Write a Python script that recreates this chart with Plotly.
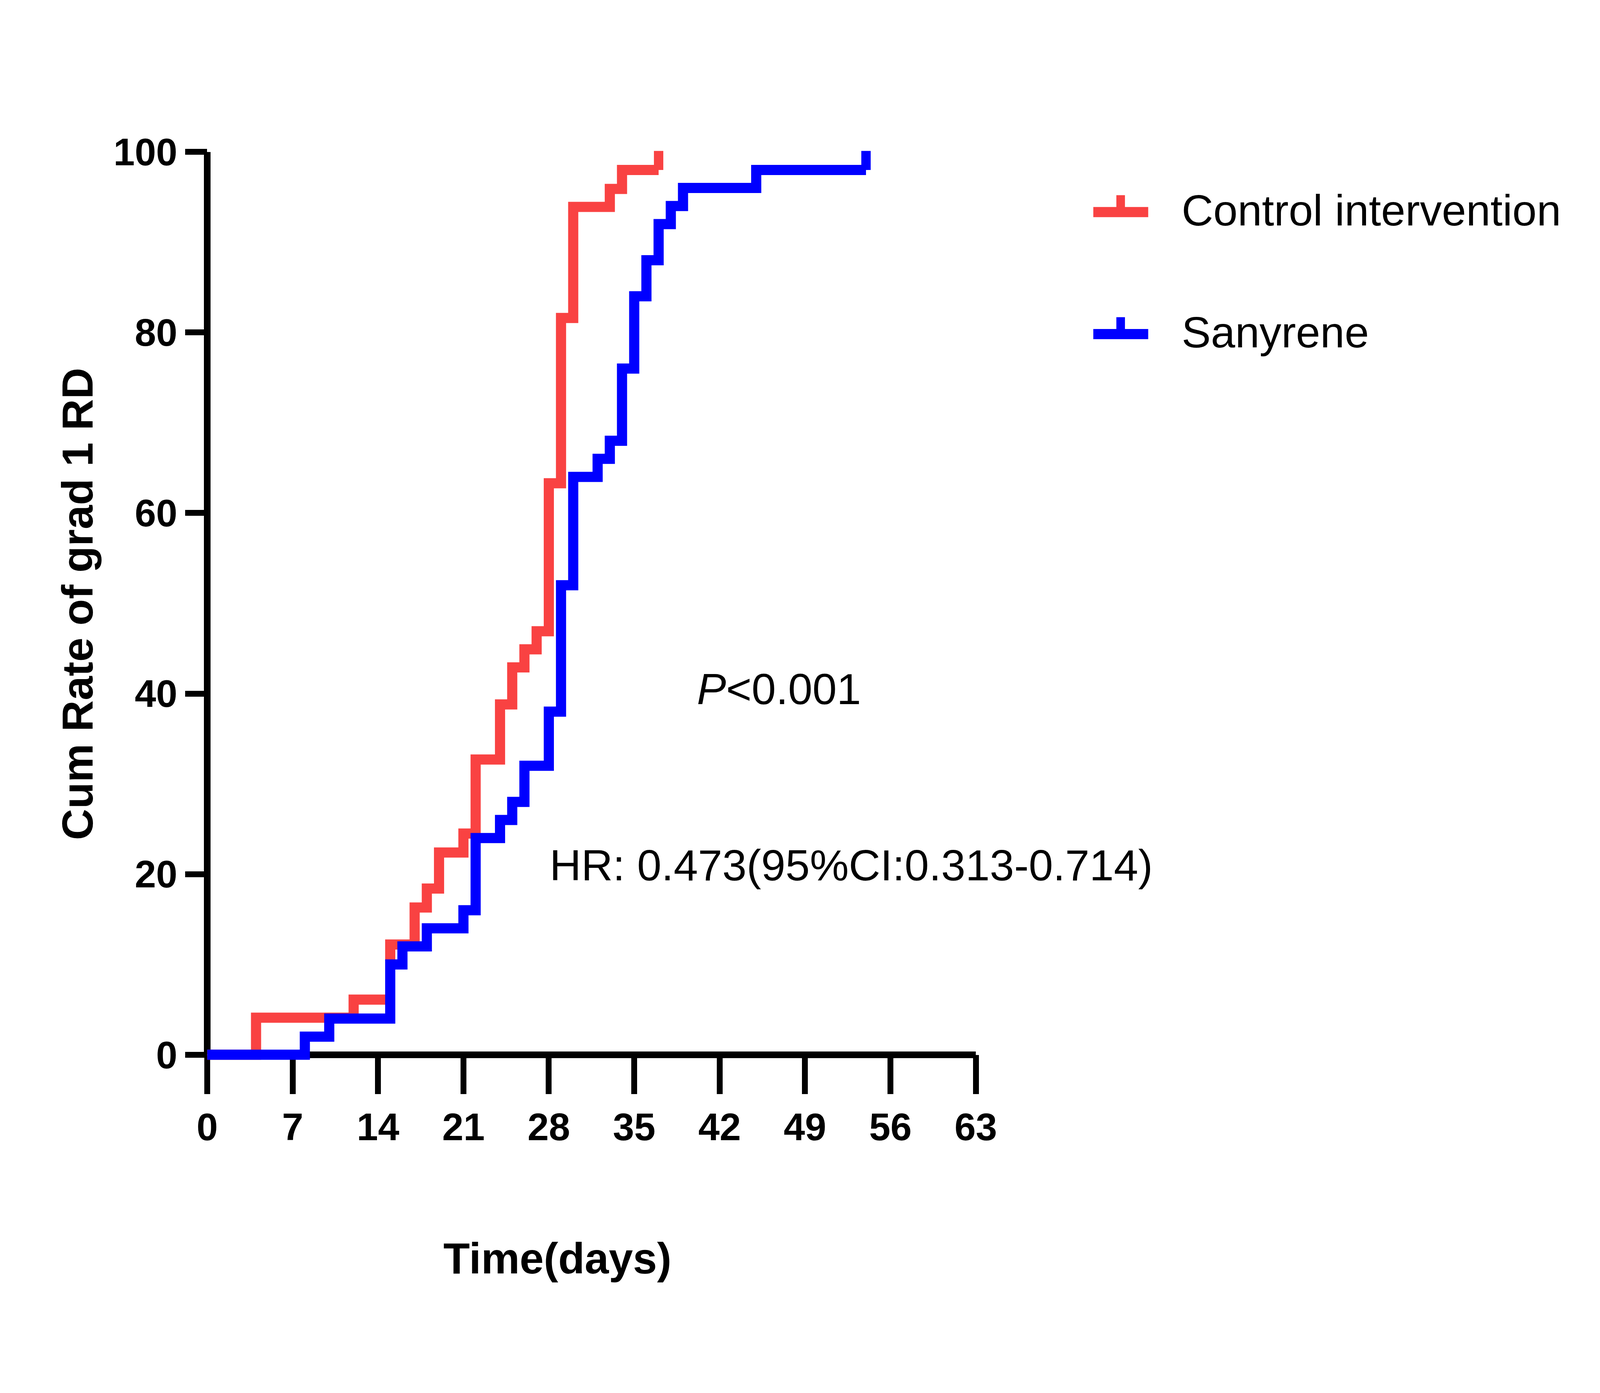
import plotly.graph_objects as go

# -----------------------------
# Data
# -----------------------------
control_days = [0, 4, 12, 15, 17, 18, 19, 21, 22, 24, 25, 26, 27, 28, 29, 30, 33, 34, 37]
control_rate = [0, 4.1, 6.1, 12.2, 16.3, 18.4, 22.4, 24.5, 32.7, 38.8, 42.9, 44.9, 46.9,
                63.3, 81.6, 93.9, 95.9, 98.0, 98.0]

sanyrene_days = [0, 8, 10, 15, 16, 18, 21, 22, 24, 25, 26, 28, 29, 30, 32, 33, 34, 35, 36,
                 37, 38, 39, 45, 54]
sanyrene_rate = [0, 2, 4, 10, 12, 14, 16, 24, 26, 28, 32, 38, 52, 64, 66, 68, 76, 84, 88,
                 92, 94, 96, 98, 98]

# censored observations (last follow-up)
control_censor = [37]
sanyrene_censor = [54]

x_ticks = [0, 7, 14, 21, 28, 35, 42, 49, 56, 63]
y_ticks = [0, 20, 40, 60, 80, 100]

group_names = ["Control intervention", "Sanyrene"]

# -----------------------------
# Style
# -----------------------------
RED = "#F94242"
BLUE = "#0000FF"
FONT = "Liberation Sans"

# the browser viewport is capped at 4096 px wide, so the figure is laid out
# in fractions of the reference (7302 x 3565) and drawn a bit smaller
REF_W, REF_H = 7302, 3565
FIG_W, FIG_H = 4076, 3545
SX = FIG_W / REF_W
TXT = 0.57              # text scale

X0, X1 = 906, 4503      # reference pixel of day 0 / day 63
Y0, Y1 = 2736, 338      # reference pixel of 0 / 100
PAD = 120
LINE_W = 26
AXIS_W = 17
TICK_H = 2.1            # censor tick height in y units


def px(x):
    return x / REF_W


def py(y):
    return 1 - y / REF_H


fig = go.Figure()

# keeps the visible x/y subplot alive (plotly drops axes without traces)
fig.add_trace(go.Scatter(
    x=control_days[:1], y=control_rate[:1], mode="markers",
    marker=dict(opacity=0), hoverinfo="skip", showlegend=False
))


def add_group(days, rate, censor, color, name):
    fig.add_trace(go.Scatter(
        x=days, y=rate, mode="lines", name=name,
        line=dict(color=color, width=LINE_W, shape="hv"),
        xaxis="x2", yaxis="y2", showlegend=False
    ))
    last = rate[-1]
    cx, cy = [], []
    for c in censor:
        cx += [c, c, None]
        cy += [last, last + TICK_H, None]
    fig.add_trace(go.Scatter(
        x=cx, y=cy, mode="lines",
        line=dict(color=color, width=24),
        xaxis="x2", yaxis="y2", showlegend=False, hoverinfo="skip"
    ))


add_group(control_days, control_rate, control_censor, RED, group_names[0])
add_group(sanyrene_days, sanyrene_rate, sanyrene_censor, BLUE, group_names[1])

# axis lines come from the zero lines, which sit centred on 0 (plotly puts
# showline lines half a line width outside the plot area)
axis_common = dict(
    showgrid=False, showline=False,
    zeroline=True, zerolinecolor="black", zerolinewidth=AXIS_W,
    ticks="outside", tickwidth=15, tickcolor="black",
    tickfont=dict(family=FONT, size=round(172 * TXT), color="black", weight="bold"),
    fixedrange=True,
)

# invisible twin axes a little wider than the visible ones, so the thick
# step lines are not clipped at 0
ppx = (X1 - X0) / 63
ppy = (Y0 - Y1) / 100

fig.update_layout(
    width=FIG_W, height=FIG_H,
    margin=dict(l=0, r=0, t=0, b=0),
    plot_bgcolor="rgba(0,0,0,0)", paper_bgcolor="white",
    showlegend=False,
    xaxis=dict(domain=[px(X0), px(X1)], range=[0, 63], tickvals=x_ticks,
               ticklen=100, anchor="y", **axis_common),
    yaxis=dict(domain=[py(Y0), py(Y1)], range=[0, 100], tickvals=y_ticks,
               ticklen=round(100 * SX), anchor="x", **axis_common),
    xaxis2=dict(domain=[px(X0 - PAD), px(X1 + PAD)],
                range=[-PAD / ppx, 63 + PAD / ppx], anchor="y2", visible=False),
    yaxis2=dict(domain=[py(Y0 + PAD), py(Y1 - PAD)],
                range=[-PAD / ppy, 100 + PAD / ppy], anchor="x2", visible=False),
)

# -----------------------------
# Axis titles and text
# -----------------------------
TITLE_FS = round(194 * TXT)
NOTE_FS = round(196 * TXT)

annotations = [
    dict(text="<b>Time(days)</b>", x=px(2545), y=py(3277), xanchor="center",
         yanchor="middle", font=dict(family=FONT, size=TITLE_FS, color="black")),
    dict(text="<b>Cum Rate of grad 1 RD</b>", x=px(300), y=py(1539), textangle=-90,
         xanchor="center", yanchor="middle",
         font=dict(family=FONT, size=TITLE_FS, color="black")),
    dict(text="<i>P</i>&lt;0.001", x=px(3581), y=py(1765), xanchor="center",
         yanchor="middle", font=dict(family=FONT, size=NOTE_FS, color="black")),
    dict(text="HR: 0.473(95%CI:0.313-0.714)", x=px(3920), y=py(2233),
         xanchor="center", yanchor="middle",
         font=dict(family=FONT, size=NOTE_FS, color="black")),
]

# -----------------------------
# Legend (drawn by hand to match the long line samples)
# -----------------------------
legend_rows = [(498, RED), (822, BLUE)]
shapes = []
for (ly, col), label in zip(legend_rows, group_names):
    shapes.append(dict(type="line", xref="paper", yref="paper",
                       x0=px(5053), x1=px(5310), y0=py(ly), y1=py(ly),
                       line=dict(color=col, width=LINE_W)))
    shapes.append(dict(type="line", xref="paper", yref="paper",
                       x0=px(5181), x1=px(5181), y0=py(ly), y1=py(ly - 45),
                       line=dict(color=col, width=22)))
    annotations.append(dict(text=label, x=px(5463), y=py(ly - 5), xanchor="left",
                            yanchor="middle",
                            font=dict(family=FONT, size=NOTE_FS, color="black")))

for a in annotations:
    a.update(xref="paper", yref="paper", showarrow=False)

fig.update_layout(annotations=annotations, shapes=shapes)

fig.write_html("out.html")
